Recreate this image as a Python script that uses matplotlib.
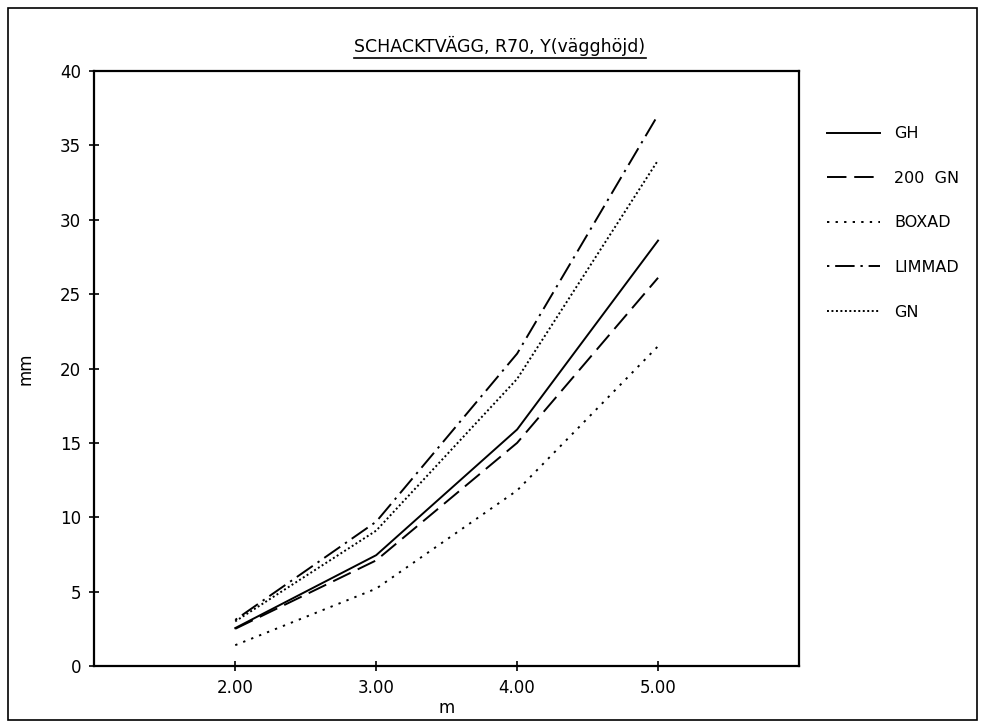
import matplotlib
matplotlib.use("Agg")
import matplotlib.pyplot as plt
from matplotlib.lines import Line2D
from matplotlib.patches import Rectangle

plt.rcParams['font.family'] = ['DejaVu Sans']

x = [2.0, 3.0, 4.0, 5.0]
gh = [2.55, 7.45, 15.9, 28.6]
gn200 = [2.5, 7.1, 15.0, 26.1]
boxad = [1.4, 5.2, 11.8, 21.5]
limmad = [3.1, 9.7, 21.0, 37.05]
gn = [3.0, 9.1, 19.3, 34.0]

labels = ["GH", "200  GN", "BOXAD", "LIMMAD", "GN"]
title = "SCHACKTVÄGG, R70, Y(vägghöjd)"
xticks = [2.0, 3.0, 4.0, 5.0]
xticklabels = ["2.00", "3.00", "4.00", "5.00"]
yticks = [0, 5, 10, 15, 20, 25, 30, 35, 40]

W, H = 984, 726
fig = plt.figure(figsize=(W / 100, H / 100), dpi=100)
ax = fig.add_axes([94.3 / W, 1 - 666 / H, (799 - 94.3) / W, (666 - 71) / H])

lw = 1.4
styles = [
    dict(linestyle='-'),
    dict(linestyle=(0, (10, 4))),
    dict(linestyle=(0, (1.2, 3.2))),
    dict(linestyle=(0, (1.2, 3, 10, 3))),
    dict(linestyle=(0, (1, 1.3))),
]
series = [gh, gn200, boxad, limmad, gn]
handles = []
for s, st, lab in zip(series, styles, labels):
    h, = ax.plot(x, s, color='black', lw=lw, label=lab, **st)
    handles.append(h)

ax.set_xlim(1.0, 6.0)
ax.set_ylim(0, 40)
ax.set_xticks(xticks)
ax.set_xticklabels(xticklabels)
ax.set_yticks(yticks)
ax.tick_params(direction='inout', length=7, width=1.2, labelsize=12, pad=6)
for sp in ax.spines.values():
    sp.set_linewidth(1.6)
ax.set_xlabel("m", fontsize=12, labelpad=1)
ax.set_ylabel("mm", fontsize=12, labelpad=18)

leg = fig.legend(handles=handles, labels=labels, loc='upper left',
                 bbox_to_anchor=(821 / W, 1 - 120 / H), frameon=False,
                 fontsize=11.5, handlelength=3.3, handletextpad=0.9,
                 labelspacing=1.85, borderaxespad=0)

t = fig.text(500 / W, 1 - 46 / H, title, ha='center', va='center', fontsize=12.5)

fig.canvas.draw()
bb = t.get_window_extent()
fig.add_artist(Line2D([bb.x0 / W, bb.x1 / W], [(bb.y0 - 2) / H, (bb.y0 - 2) / H],
                      transform=fig.transFigure, color='black', lw=1.2))

fig.add_artist(Rectangle((8 / W, 1 - 720 / H), (977 - 8) / W, (720 - 8) / H,
                         transform=fig.transFigure, fill=False, ec='black', lw=1.2))

fig.savefig("out.png", dpi=100)
